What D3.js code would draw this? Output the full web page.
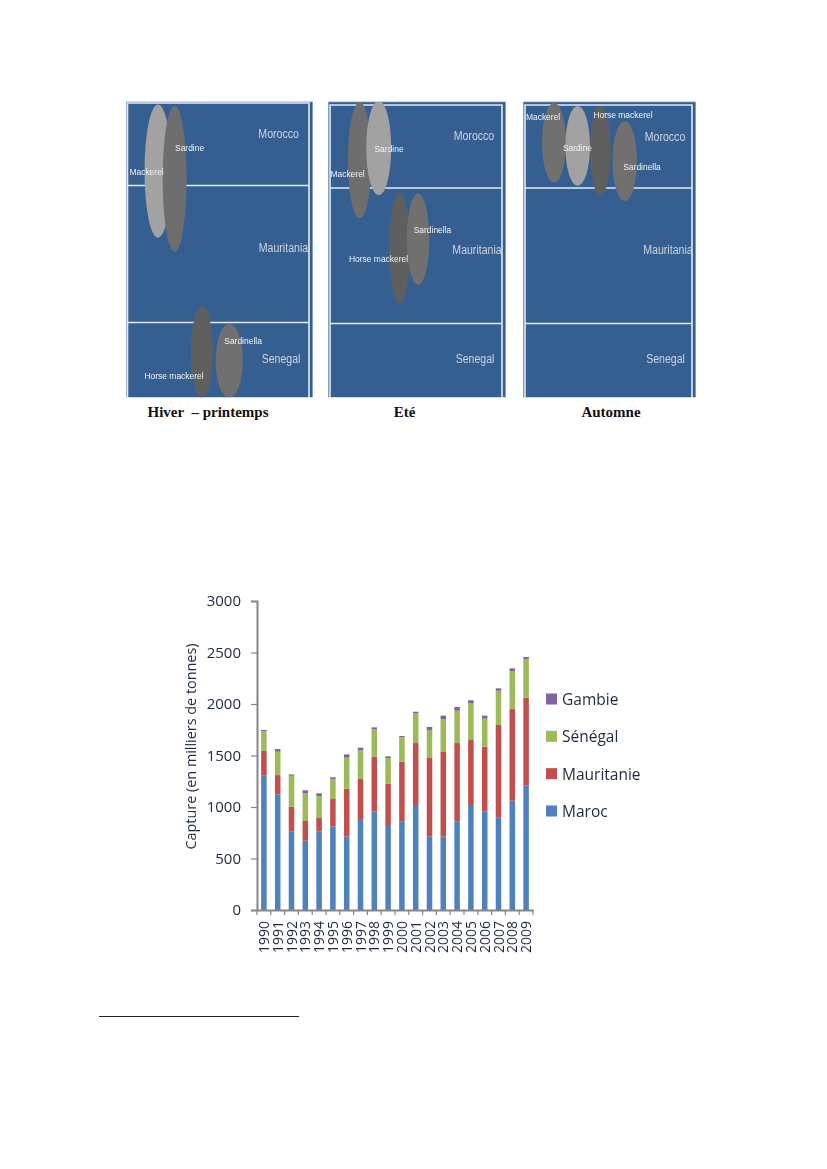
<!DOCTYPE html>
<html><head><meta charset="utf-8">
<script src="https://cdn.jsdelivr.net/npm/d3@7"></script>
<style>html,body{margin:0;padding:0;background:#fff}svg{display:block}</style></head>
<body><svg id="c" width="827" height="1169"></svg>
<script>
// ---- stacked bar data (thousand tonnes)
const years = [1990,1991,1992,1993,1994,1995,1996,1997,1998,1999,2000,2001,2002,2003,2004,2005,2006,2007,2008,2009];
const maroc      = [1304,1120,760,673,760,812,715,883,955,825,858,1019,715,715,858,1019,955,896,1061,1207];
const mauritanie = [243,190,243,191,133,266,463,389,534,402,582,602,761,819,763,631,631,900,894,854];
const senegal    = [188,227,301,272,214,194,301,278,268,249,236,288,272,320,314,356,272,333,365,376];
const gambie     = [13,26,13,26,26,16,32,26,16,16,13,16,29,33,36,30,29,23,26,19];
const seriesNames = ["Maroc","Mauritanie","Sénégal","Gambie"];
const seriesColors = ["#4f81bd","#c0504d","#9bbb59","#8064a2"];
const yTicks = [0,500,1000,1500,2000,2500,3000];

// ---- seasonal distribution diagrams: positions in % of each panel
const seasons = ["Hiver  – printemps","Eté","Automne"];
const regions = ["Morocco","Mauritania","Senegal"];
const species = ["Mackerel","Sardine","Horse mackerel","Sardinella"];
const ellipseX  = [[17.1,26.0,40.6,55.2],[17.8,28.5,40.3,50.6],[17.9,31.6,44.7,58.8]];
const ellipseY  = [[23.5,26.1,84.6,87.6],[19.8,15.7,49.5,46.5],[13.9,15.0,16.6,20.1]];
const ellipseRX = [[7.2,6.4,5.9,7.3],[6.6,7.0,5.9,6.3],[6.9,7.1,6.0,7.1]];
const ellipseRY = [[22.5,24.7,15.5,12.5],[19.6,16.0,18.6,15.5],[13.5,13.5,15.1,13.5]];
const labelX    = [[11.0,34.0,25.7,62.6],[11.0,34.3,28.4,58.7],[11.6,31.5,57.8,68.8]];
const labelY    = [[23.5,15.7,92.4,80.9],[24.2,16.0,53.1,43.4],[5.1,15.7,4.5,22.1]];
const regionX   = [[81.6,84.2,82.9],[82.0,83.7,82.6],[82.1,83.8,82.4]];
const regionY   = [[11.0,49.5,87.0],[11.7,50.2,87.0],[11.9,50.2,87.0]];
const shades    = [["#a2a2a2","#6e6e6e","#5e5e5e","#707070"],["#6e6e6e","#a2a2a2","#5e5e5e","#707070"],["#707070","#a2a2a2","#5e5e5e","#707070"]];

const svg = d3.select("#c");
const defs = svg.append("defs");
defs.append("filter").attr("id","soft").append("feGaussianBlur").attr("stdDeviation",0.35);

// ---- panels
const panels = [
  {x0:126,x1:313,fx0:127.5,fx1:309,ftop:103,l1:185.5,l2:322.5,tx:208},
  {x0:328,x1:506,fx0:330,fx1:502,ftop:105,l1:188,l2:323.5,tx:404.5},
  {x0:523,x1:696,fx0:525,fx1:692,ftop:105,l1:188,l2:323.5,tx:611}
];
const py0 = 101.5, py1 = 397.5;
const py = d3.scaleLinear().domain([0,100]).range([py0,py1]);
const pheight = d3.scaleLinear().domain([0,100]).range([0,py1-py0]);
const condense = (sel,k)=>sel.attr("textLength",function(){return this.getComputedTextLength()*k;}).attr("lengthAdjust","spacingAndGlyphs");

panels.forEach((p,i)=>{
  const px = d3.scaleLinear().domain([0,100]).range([p.x0,p.x1]);
  const pw = d3.scaleLinear().domain([0,100]).range([0,p.x1-p.x0]);
  const cid = "clip"+i;
  defs.append("clipPath").attr("id",cid).append("rect")
    .attr("x",p.x0).attr("y",py0).attr("width",p.x1-p.x0).attr("height",py1-py0);
  const g = svg.append("g").attr("clip-path",`url(#${cid})`).append("g").attr("filter","url(#soft)");
  g.append("rect").attr("x",p.x0).attr("y",py0).attr("width",p.x1-p.x0).attr("height",py1-py0).attr("fill","#365f91");
  g.append("rect").attr("x",p.x0).attr("y",py0).attr("width",p.x1-p.x0).attr("height",py1-py0+4)
    .attr("fill","none").attr("stroke","#95b3d7").attr("stroke-width",1.5);
  // white frame
  g.append("path").attr("d",`M${p.fx0},${py1+3}V${p.ftop}H${p.fx1}V${py1+3}`)
    .attr("fill","none").attr("stroke","#e6e9ee").attr("stroke-width",1.6);
  [p.l1,p.l2].forEach(y=>g.append("line").attr("x1",p.fx0).attr("x2",p.fx1).attr("y1",y).attr("y2",y)
    .attr("stroke","#e6e9ee").attr("stroke-width",1.4));
  g.selectAll("ellipse").data(species).join("ellipse")
    .attr("cx",(d,j)=>px(ellipseX[i][j])).attr("cy",(d,j)=>py(ellipseY[i][j]))
    .attr("rx",(d,j)=>pw(ellipseRX[i][j])).attr("ry",(d,j)=>pheight(ellipseRY[i][j]))
    .attr("fill",(d,j)=>shades[i][j]);
  g.selectAll("text.sp").data(species).join("text").attr("class","sp")
    .attr("x",(d,j)=>px(labelX[i][j])).attr("y",(d,j)=>py(labelY[i][j]))
    .attr("text-anchor","middle").attr("dominant-baseline","central")
    .attr("font-family","Liberation Sans").attr("font-size",9.5).attr("fill","#f2f2f2").text(d=>d)
    .call(condense,0.89);
  g.selectAll("text.rg").data(regions).join("text").attr("class","rg")
    .attr("x",(d,j)=>px(regionX[i][j])).attr("y",(d,j)=>py(regionY[i][j]))
    .attr("text-anchor","middle").attr("dominant-baseline","central")
    .attr("font-family","Liberation Sans").attr("font-size",12).attr("fill","#ccd3de").text(d=>d)
    .call(condense,0.88);
  svg.append("text").attr("x",p.tx).attr("y",417).attr("text-anchor","middle")
    .attr("font-family","Liberation Serif").attr("font-weight","bold").attr("font-size",15)
    .attr("fill","#111").style("white-space","pre").text(seasons[i]);
});

// ---- stacked bars
const x = d3.scaleBand().domain(years).range([257,533]).paddingInner(0.6).paddingOuter(0.3);
const y = d3.scaleLinear().domain([0,3000]).range([910,601]);
const table = years.map((yr,i)=>({year:yr,Maroc:maroc[i],Mauritanie:mauritanie[i],"Sénégal":senegal[i],Gambie:gambie[i]}));
const stacked = d3.stack().keys(seriesNames)(table);
const color = d3.scaleOrdinal(seriesNames,seriesColors);
const chart = svg.append("g").attr("filter","url(#soft)");
chart.selectAll("g.s").data(stacked).join("g").attr("class","s").attr("fill",d=>color(d.key))
  .selectAll("rect").data(d=>d).join("rect")
  .attr("x",d=>x(d.data.year)).attr("width",x.bandwidth())
  .attr("y",d=>y(d[1])).attr("height",d=>y(d[0])-y(d[1]));

const tickColor = "#868686", textColor = "#1f2a3f", font = "Open Sans";
const yAxis = chart.append("g").attr("transform","translate(257,0)")
  .call(d3.axisLeft(y).tickValues(yTicks).tickFormat(d3.format("d")).tickSize(6).tickPadding(10));
yAxis.select(".domain").attr("stroke",tickColor).attr("stroke-width",2);
yAxis.selectAll("line").attr("stroke",tickColor).attr("stroke-width",1.2);
yAxis.selectAll("text").attr("font-family",font).attr("font-size",15).attr("fill",textColor);

const xAxis = chart.append("g").attr("transform","translate(0,910)")
  .call(d3.axisBottom(x).tickSize(0).tickFormat(d=>d));
xAxis.select(".domain").attr("stroke",tickColor).attr("stroke-width",2);
xAxis.selectAll("text").attr("font-family",font).attr("font-size",14).attr("fill",textColor)
  .attr("transform","rotate(-90)").attr("text-anchor","end").attr("x",-11).attr("y",0).attr("dy","0.36em");
xAxis.selectAll("line.sep").data(d3.range(years.length+1)).join("line").attr("class","sep")
  .attr("x1",i=>257+i*(276/years.length)).attr("x2",i=>257+i*(276/years.length))
  .attr("y1",0).attr("y2",5).attr("stroke",tickColor).attr("stroke-width",1.2);

chart.append("text").attr("transform","translate(190,746.5) rotate(-90)").attr("text-anchor","middle")
  .attr("dominant-baseline","central").attr("font-family",font).attr("font-size",14.4).attr("fill",textColor)
  .text("Capture (en milliers de tonnes)");

// ---- legend
const legY = d3.scalePoint().domain(["Gambie","Sénégal","Mauritanie","Maroc"]).range([699,811]);
const leg = chart.selectAll("g.l").data(legY.domain()).join("g").attr("class","l")
  .attr("transform",d=>`translate(546,${legY(d)})`);
leg.append("rect").attr("x",0).attr("y",-5.5).attr("width",11).attr("height",11).attr("fill",d=>color(d));
leg.append("text").attr("x",16).attr("dominant-baseline","central").attr("font-family",font)
  .attr("font-size",15.5).attr("fill",textColor).text(d=>d);

// ---- footnote rule
svg.append("line").attr("x1",99).attr("x2",299).attr("y1",1016.5).attr("y2",1016.5).attr("stroke","#222").attr("stroke-width",1);
</script></body></html>
